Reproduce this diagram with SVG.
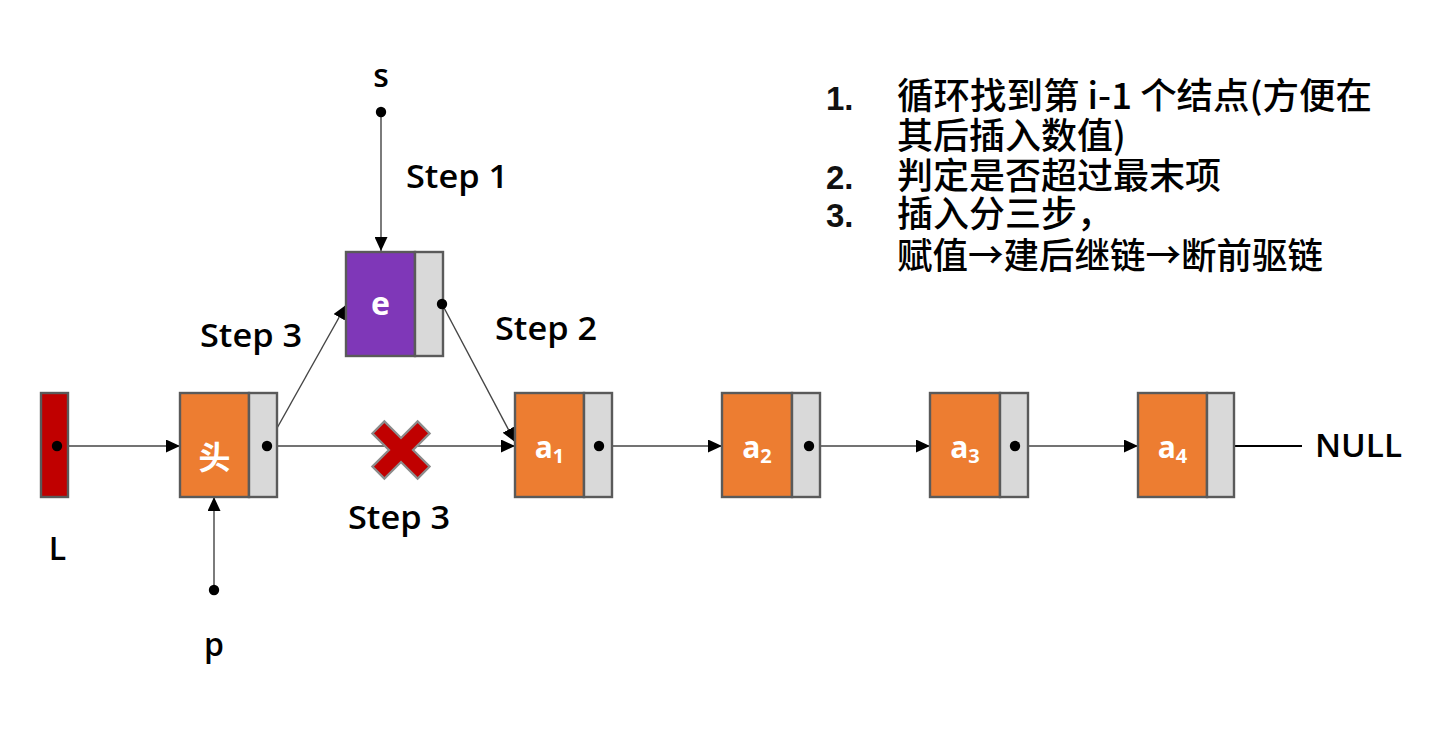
<svg xmlns="http://www.w3.org/2000/svg" width="1440" height="741" viewBox="0 0 1440 741">
<style>
.box{stroke:#5a5a5a;stroke-width:2.4}
.or{fill:#ED7D31}
.gr{fill:#D9D9D9}
.lbl{font-family:"Open Sans","Noto Sans",sans-serif;font-size:32px;font-weight:600;fill:#000}
.nt{font-family:"Open Sans","Noto Sans","Noto Sans CJK SC",sans-serif;font-weight:bold;fill:#fff;text-anchor:middle}
.cn{font-family:"Noto Sans CJK SC","Noto Sans",sans-serif;font-size:36px;font-weight:500;fill:#000}
.num{font-family:"Liberation Sans",Arial,sans-serif;font-size:33px;font-weight:bold;fill:#111}
.ln{stroke:#444;stroke-width:1.4;fill:none}
.dot{fill:#000}
</style>
<defs>
<marker id="arr" viewBox="0 0 14 13" refX="14" refY="6.5" markerWidth="14" markerHeight="13" markerUnits="userSpaceOnUse" orient="auto"><path d="M0,0 L14,6.5 L0,13 z" fill="#000"/></marker>
</defs>
<rect width="1440" height="741" fill="#fff"/>

<g id="connectors">
<line class="ln" x1="57" y1="446" x2="180" y2="446" marker-end="url(#arr)"/>
<line class="ln" x1="267" y1="446" x2="515" y2="446" marker-end="url(#arr)"/>
<line class="ln" x1="267" y1="446" x2="346" y2="305" marker-end="url(#arr)"/>
<line class="ln" x1="442" y1="304" x2="515" y2="442" marker-end="url(#arr)"/>
<line class="ln" x1="381" y1="112" x2="381" y2="251" marker-end="url(#arr)"/>
<line class="ln" x1="214" y1="590" x2="214" y2="497" marker-end="url(#arr)"/>
<line class="ln" x1="599" y1="446" x2="722" y2="446" marker-end="url(#arr)"/>
<line class="ln" x1="809" y1="446" x2="930" y2="446" marker-end="url(#arr)"/>
<line class="ln" x1="1015" y1="446" x2="1138" y2="446" marker-end="url(#arr)"/>
<line x1="1222" y1="446" x2="1302" y2="446" stroke="#000" stroke-width="2.2"/>
</g>

<g id="node-L">
<rect class="box" x="41" y="393" width="27" height="104" fill="#C00000"/>
<circle class="dot" cx="57" cy="446" r="5.2"/>
<text class="lbl" x="57.5" y="560" text-anchor="middle">L</text>
</g>

<g id="node-head">
<rect class="box or" x="180" y="393" width="69" height="104"/>
<rect class="box gr" x="249" y="393" width="28" height="104"/>
<text class="nt" x="214.5" y="469" font-size="32" font-family="Noto Sans CJK SC, sans-serif">头</text>
<circle class="dot" cx="267" cy="446" r="5.2"/>
</g>

<g id="node-p">
<circle class="dot" cx="214" cy="590" r="5.2"/>
<text class="lbl" x="214" y="656" text-anchor="middle">p</text>
</g>

<g id="node-s">
<circle class="dot" cx="381" cy="112" r="5.2"/>
<text class="lbl" x="381" y="87" text-anchor="middle" font-size="28">s</text>
</g>

<g id="node-e">
<rect class="box" x="346" y="252" width="69" height="104" fill="#7F37B8"/>
<rect class="box gr" x="415" y="252" width="28" height="104"/>
<text class="nt" x="380.5" y="315" font-size="32">e</text>
<circle class="dot" cx="442" cy="304" r="5.2"/>
</g>

<g id="node-a1">
<rect class="box or" x="515" y="393" width="69" height="104"/>
<rect class="box gr" x="584" y="393" width="28" height="104"/>
<text class="nt" x="549.5" y="458" font-size="30">a<tspan font-size="20" dy="5">1</tspan></text>
<circle class="dot" cx="599" cy="446" r="5.2"/>
</g>

<g id="node-a2">
<rect class="box or" x="722" y="393" width="70" height="104"/>
<rect class="box gr" x="792" y="393" width="28" height="104"/>
<text class="nt" x="757" y="458" font-size="30">a<tspan font-size="20" dy="5">2</tspan></text>
<circle class="dot" cx="809" cy="446" r="5.2"/>
</g>

<g id="node-a3">
<rect class="box or" x="930" y="393" width="70" height="104"/>
<rect class="box gr" x="1000" y="393" width="28" height="104"/>
<text class="nt" x="965" y="458" font-size="30">a<tspan font-size="20" dy="5">3</tspan></text>
<circle class="dot" cx="1015" cy="446" r="5.2"/>
</g>

<g id="node-a4">
<rect class="box or" x="1138" y="393" width="69" height="104"/>
<rect class="box gr" x="1207" y="393" width="27" height="104"/>
<text class="nt" x="1172.5" y="458" font-size="30">a<tspan font-size="20" dy="5">4</tspan></text>
</g>

<g id="null">
<text class="lbl" x="1315" y="457" textLength="87" lengthAdjust="spacingAndGlyphs">NULL</text>
</g>

<g id="cross">
<polygon transform="translate(401,450) rotate(45)" points="-8.5,-32 8.5,-32 8.5,-8.5 32,-8.5 32,8.5 8.5,8.5 8.5,32 -8.5,32 -8.5,8.5 -32,8.5 -32,-8.5 -8.5,-8.5" fill="#C00000" stroke="#8c8c8c" stroke-width="2.2" stroke-linejoin="miter"/>
</g>

<g id="labels">
<text class="lbl" x="406" y="188" textLength="102" lengthAdjust="spacingAndGlyphs">Step 1</text>
<text class="lbl" x="495" y="340" textLength="102" lengthAdjust="spacingAndGlyphs">Step 2</text>
<text class="lbl" x="200" y="347" textLength="102" lengthAdjust="spacingAndGlyphs">Step 3</text>
<text class="lbl" x="348" y="529" textLength="102" lengthAdjust="spacingAndGlyphs">Step 3</text>
</g>

<g id="notes">
<text class="num" x="826" y="110">1.</text>
<text class="cn" x="897" y="109" textLength="475" lengthAdjust="spacingAndGlyphs">循环找到第 i-1 个结点(方便在</text>
<text class="cn" x="897" y="149">其后插入数值)</text>
<text class="num" x="826" y="189">2.</text>
<text class="cn" x="897" y="189">判定是否超过最末项</text>
<text class="num" x="826" y="227">3.</text>
<text class="cn" x="897" y="227">插入分三步，</text>
<text class="cn" x="897" y="269" textLength="426" lengthAdjust="spacingAndGlyphs">赋值→建后继链→断前驱链</text>
</g>
</svg>
